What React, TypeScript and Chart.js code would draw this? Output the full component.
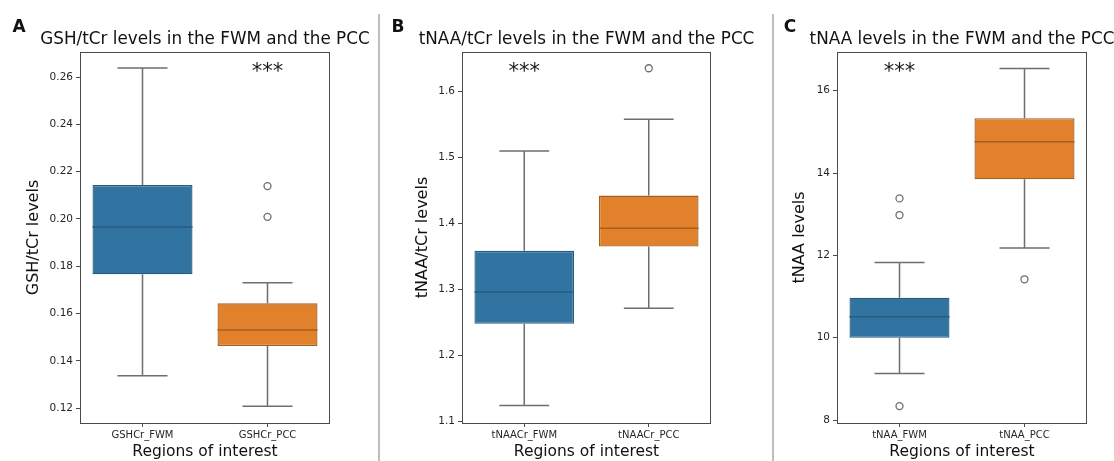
import React, { useEffect, useRef } from "react";
import { Chart, registerables } from "chart.js";

Chart.register(...registerables);

// ---------- Data ----------
const categoriesA = ["GSHCr_FWM", "GSHCr_PCC"];
const q1A = [0.1766, 0.1463];
const medianA = [0.1966, 0.153];
const q3A = [0.2143, 0.1643];
const whiskerLowA = [0.1337, 0.1208];
const whiskerHighA = [0.2638, 0.173];
const outliersA_FWM: number[] = [];
const outliersA_PCC = [0.2139, 0.2009];
const ticksA = [0.12, 0.14, 0.16, 0.18, 0.2, 0.22, 0.24, 0.26];
const tickLabelsA = ["0.12", "0.14", "0.16", "0.18", "0.20", "0.22", "0.24", "0.26"];

const categoriesB = ["tNAACr_FWM", "tNAACr_PCC"];
const q1B = [1.2483, 1.3653];
const medianB = [1.2963, 1.3932];
const q3B = [1.3588, 1.4425];
const whiskerLowB = [1.1246, 1.272];
const whiskerHighB = [1.5102, 1.558];
const outliersB_FWM: number[] = [];
const outliersB_PCC = [1.6354];
const ticksB = [1.1, 1.2, 1.3, 1.4, 1.5, 1.6];
const tickLabelsB = ["1.1", "1.2", "1.3", "1.4", "1.5", "1.6"];

const categoriesC = ["tNAA_FWM", "tNAA_PCC"];
const q1C = [10.0, 13.85];
const medianC = [10.51, 14.76];
const q3C = [10.97, 15.33];
const whiskerLowC = [9.13, 12.18];
const whiskerHighC = [11.83, 16.54];
const outliersC_FWM = [13.385, 12.98, 8.34];
const outliersC_PCC = [11.42];
const ticksC = [8, 10, 12, 14, 16];
const tickLabelsC = ["8", "10", "12", "14", "16"];

// ---------- Styles ----------
const FONT = "'DejaVu Sans', 'Liberation Sans', sans-serif";
const FILLS = ["#3274a1", "#e1812c"];
const EDGES = ["#285b80", "#a5601f"];
const WHISKER = "#6e6e6e";
const FRAME = "#4a4a4a";
const TEXT = "#262626";

type PanelCfg = {
  letter: string;
  title: string;
  yTitle: string;
  categories: string[];
  q1: number[];
  median: number[];
  q3: number[];
  low: number[];
  high: number[];
  outliers: number[][];
  ticks: number[];
  tickLabels: string[];
  yMin: number;
  yMax: number;
  starsIndex: number;
  left: number;
  width: number;
  areaLeft: number;
  areaRight: number;
  yTitlePad: number;
  letterX: number;
};

const H = 461;
const AREA_TOP = 52;
const AREA_BOTTOM = 423;

const panels: PanelCfg[] = [
  {
    letter: "A",
    title: "GSH/tCr levels in the FWM and the PCC",
    yTitle: "GSH/tCr levels",
    categories: categoriesA,
    q1: q1A,
    median: medianA,
    q3: q3A,
    low: whiskerLowA,
    high: whiskerHighA,
    outliers: [outliersA_FWM, outliersA_PCC],
    ticks: ticksA,
    tickLabels: tickLabelsA,
    yMin: 0.1137,
    yMax: 0.2706,
    starsIndex: 1,
    left: 0,
    width: 378,
    areaLeft: 80,
    areaRight: 330,
    yTitlePad: 24,
    letterX: 19,
  },
  {
    letter: "B",
    title: "tNAA/tCr levels in the FWM and the PCC",
    yTitle: "tNAA/tCr levels",
    categories: categoriesB,
    q1: q1B,
    median: medianB,
    q3: q3B,
    low: whiskerLowB,
    high: whiskerHighB,
    outliers: [outliersB_FWM, outliersB_PCC],
    ticks: ticksB,
    tickLabels: tickLabelsB,
    yMin: 1.098,
    yMax: 1.66,
    starsIndex: 0,
    left: 378,
    width: 394,
    areaLeft: 84,
    areaRight: 333,
    yTitlePad: 35,
    letterX: 20,
  },
  {
    letter: "C",
    title: "tNAA levels in the FWM and the PCC",
    yTitle: "tNAA levels",
    categories: categoriesC,
    q1: q1C,
    median: medianC,
    q3: q3C,
    low: whiskerLowC,
    high: whiskerHighC,
    outliers: [outliersC_FWM, outliersC_PCC],
    ticks: ticksC,
    tickLabels: tickLabelsC,
    yMin: 7.93,
    yMax: 16.94,
    starsIndex: 0,
    left: 772,
    width: 342,
    areaLeft: 65,
    areaRight: 315,
    yTitlePad: 18,
    letterX: 18,
  },
];

function Panel({ cfg }: { cfg: PanelCfg }) {
  const ref = useRef<HTMLCanvasElement | null>(null);

  useEffect(() => {
    if (!ref.current) return;

    const outlierPoints: { x: string; y: number }[] = [];
    cfg.outliers.forEach((arr, i) =>
      arr.forEach((v) => outlierPoints.push({ x: cfg.categories[i], y: v }))
    );

    const boxPlugin = {
      id: "boxParts",
      beforeDatasetsDraw(chart: any) {
        const ctx = chart.ctx;
        const y = chart.scales.y;
        const meta = chart.getDatasetMeta(0);
        ctx.save();
        ctx.strokeStyle = WHISKER;
        ctx.lineWidth = 1.5;
        cfg.categories.forEach((_, i) => {
          const el = meta.data[i];
          const cx = el.x;
          const half = el.width / 4;
          const yl = y.getPixelForValue(cfg.low[i]);
          const yh = y.getPixelForValue(cfg.high[i]);
          const y1 = y.getPixelForValue(cfg.q1[i]);
          const y3 = y.getPixelForValue(cfg.q3[i]);
          ctx.beginPath();
          ctx.moveTo(cx, y1);
          ctx.lineTo(cx, yl);
          ctx.moveTo(cx - half, yl);
          ctx.lineTo(cx + half, yl);
          ctx.moveTo(cx, y3);
          ctx.lineTo(cx, yh);
          ctx.moveTo(cx - half, yh);
          ctx.lineTo(cx + half, yh);
          ctx.stroke();
        });
        ctx.restore();
      },
      afterDatasetsDraw(chart: any) {
        const ctx = chart.ctx;
        const y = chart.scales.y;
        const meta = chart.getDatasetMeta(0);
        ctx.save();
        ctx.lineWidth = 1.5;
        cfg.categories.forEach((_, i) => {
          const el = meta.data[i];
          const ym = y.getPixelForValue(cfg.median[i]);
          ctx.strokeStyle = EDGES[i];
          ctx.beginPath();
          ctx.moveTo(el.x - el.width / 2, ym);
          ctx.lineTo(el.x + el.width / 2, ym);
          ctx.stroke();
        });
        const a = chart.chartArea;
        ctx.strokeStyle = FRAME;
        ctx.lineWidth = 1;
        ctx.strokeRect(a.left + 0.5, a.top + 0.5, a.right - a.left - 1, a.bottom - a.top);
        const sx = meta.data[cfg.starsIndex].x;
        ctx.fillStyle = "#1a1a1a";
        ctx.font = `21px ${FONT}`;
        ctx.textAlign = "center";
        ctx.textBaseline = "middle";
        ctx.fillText("***", sx, a.top + 21);
        ctx.font = `16.8px ${FONT}`;
        ctx.fillStyle = "#111";
        ctx.textBaseline = "alphabetic";
        ctx.fillText(cfg.title, (a.left + a.right) / 2, 44);
        ctx.font = `bold 17px ${FONT}`;
        ctx.textAlign = "center";
        ctx.fillText(cfg.letter, cfg.letterX, 32);
        if (cfg.left > 0) {
          ctx.strokeStyle = "#a8a8a8";
          ctx.lineWidth = 1.5;
          ctx.beginPath();
          ctx.moveTo(1, 14);
          ctx.lineTo(1, H);
          ctx.stroke();
        }
        ctx.restore();
      },
    };

    const chart = new Chart(ref.current, {
      type: "bar",
      data: {
        labels: cfg.categories,
        datasets: [
          {
            type: "bar",
            data: cfg.categories.map((_, i) => [cfg.q1[i], cfg.q3[i]]) as any,
            backgroundColor: FILLS,
            borderColor: EDGES,
            borderWidth: 1.3,
            borderSkipped: false,
            barPercentage: 0.8,
            categoryPercentage: 1,
            order: 2,
          } as any,
          {
            type: "line",
            data: outlierPoints as any,
            showLine: false,
            pointRadius: 3.5,
            pointHoverRadius: 3.5,
            pointBackgroundColor: "#ffffff",
            pointBorderColor: "#6e6e6e",
            pointBorderWidth: 1.3,
            order: 0,
          } as any,
        ],
      },
      options: {
        animation: false,
        responsive: true,
        maintainAspectRatio: false,
        events: [],
        layout: {
          padding: { top: AREA_TOP, right: cfg.width - cfg.areaRight, bottom: 0, left: 0 },
        },
        plugins: { legend: { display: false }, tooltip: { enabled: false }, title: { display: false } },
        scales: {
          x: {
            type: "category",
            offset: true,
            border: { display: false },
            grid: { display: true, drawOnChartArea: false, drawTicks: true, tickLength: 4, color: FRAME, offset: false },
            ticks: { color: TEXT, font: { family: FONT, size: 10 }, padding: 2, maxRotation: 0 },
            title: { display: true, text: "Regions of interest", color: "#111", font: { family: FONT, size: 15.5 }, padding: { top: 0, bottom: 0 } },
            afterFit: (s: any) => {
              s.height = H - AREA_BOTTOM;
            },
          },
          y: {
            type: "linear",
            min: cfg.yMin,
            max: cfg.yMax,
            border: { display: false },
            grid: { display: true, drawOnChartArea: false, drawTicks: true, tickLength: 4, color: FRAME },
            ticks: {
              color: TEXT,
              font: { family: FONT, size: 10.5 },
              padding: 3,
              callback: (v: any) => {
                const idx = cfg.ticks.findIndex((t) => Math.abs(t - Number(v)) < 1e-9);
                return idx >= 0 ? cfg.tickLabels[idx] : "";
              },
            },
            afterBuildTicks: (s: any) => {
              s.ticks = cfg.ticks.map((v) => ({ value: v }));
            },
            title: { display: true, text: cfg.yTitle, color: "#111", font: { family: FONT, size: 16 }, padding: { top: cfg.yTitlePad, bottom: 0 } },
            afterFit: (s: any) => {
              s.width = cfg.areaLeft;
            },
          },
        },
      },
      plugins: [boxPlugin],
    } as any);

    return () => chart.destroy();
  }, [cfg]);

  return (
    <div style={{ position: "absolute", left: cfg.left, top: 0, width: cfg.width, height: H }}>
      <canvas ref={ref} />
    </div>
  );
}

export default function App() {
  return (
    <div style={{ position: "fixed", left: 0, top: 0, width: 1114, height: H, background: "#fff" }}>
      {panels.map((p) => (
        <Panel key={p.letter} cfg={p} />
      ))}
    </div>
  );
}
